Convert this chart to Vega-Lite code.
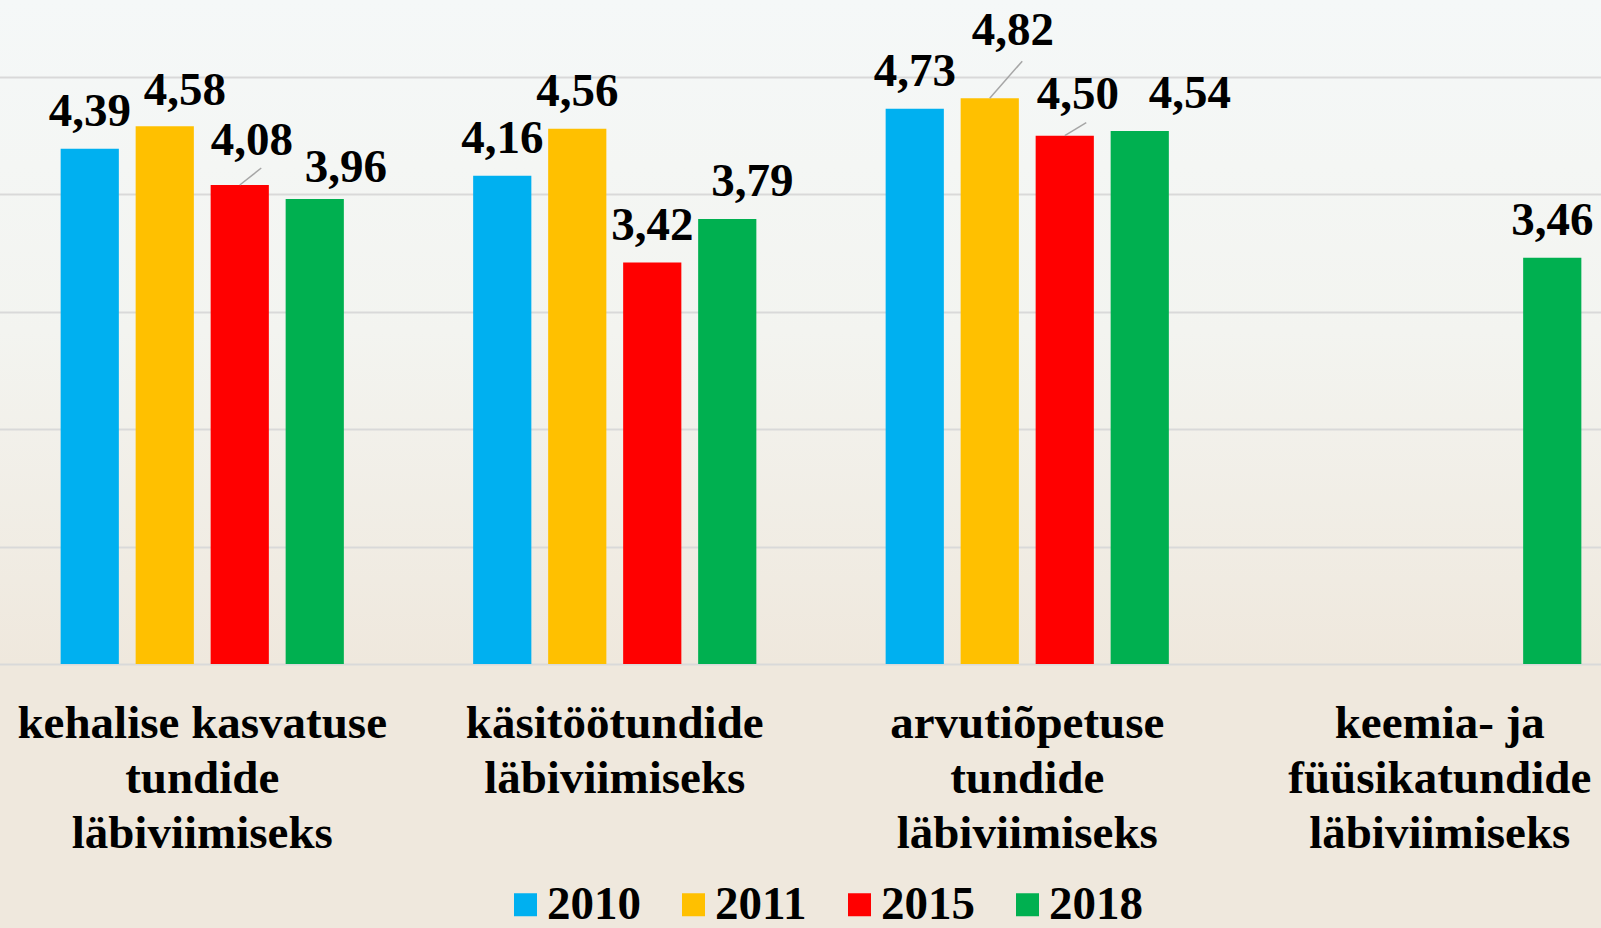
{
  "$schema": "https://vega.github.io/schema/vega-lite/v6.json",
  "width": 1601,
  "height": 664,
  "autosize": {"type": "none"},
  "padding": {"left": 0, "top": 0, "right": 0, "bottom": 264},
  "background": "#efe8dd",
  "config": {
    "view": {"stroke": null, "fill": {"gradient": "linear", "x1": 0, "y1": 0, "x2": 0, "y2": 1, "stops": [{"offset": 0, "color": "#f5f8f8"}, {"offset": 0.5, "color": "#f3f4f0"}, {"offset": 1, "color": "#efe8dd"}]}},
    "locale": {"number": {"decimal": ",", "thousands": " ", "grouping": [3], "currency": ["", " €"]}},
    "font": "Liberation Serif"
  },
  "data": {
    "values": [
      {"category": "kehalise kasvatuse\ntundide\nläbiviimiseks", "year": "2010", "value": 4.39},
      {"category": "kehalise kasvatuse\ntundide\nläbiviimiseks", "year": "2011", "value": 4.58},
      {"category": "kehalise kasvatuse\ntundide\nläbiviimiseks", "year": "2015", "value": 4.08},
      {"category": "kehalise kasvatuse\ntundide\nläbiviimiseks", "year": "2018", "value": 3.96},
      {"category": "käsitöötundide\nläbiviimiseks", "year": "2010", "value": 4.16},
      {"category": "käsitöötundide\nläbiviimiseks", "year": "2011", "value": 4.56},
      {"category": "käsitöötundide\nläbiviimiseks", "year": "2015", "value": 3.42},
      {"category": "käsitöötundide\nläbiviimiseks", "year": "2018", "value": 3.79},
      {"category": "arvutiõpetuse\ntundide\nläbiviimiseks", "year": "2010", "value": 4.73},
      {"category": "arvutiõpetuse\ntundide\nläbiviimiseks", "year": "2011", "value": 4.82},
      {"category": "arvutiõpetuse\ntundide\nläbiviimiseks", "year": "2015", "value": 4.50},
      {"category": "arvutiõpetuse\ntundide\nläbiviimiseks", "year": "2018", "value": 4.54},
      {"category": "keemia- ja\nfüüsikatundide\nläbiviimiseks", "year": "2018", "value": 3.46}
    ]
  },
  "encoding": {
    "x": {
      "field": "category", "type": "nominal", "sort": null,
      "scale": {"range": [-4, 1646], "paddingInner": 0, "paddingOuter": 0},
      "axis": {
        "title": null, "labelAngle": 0, "labelFont": "Liberation Serif", "labelFontSize": 47,
        "labelFontWeight": "bold", "labelColor": "black", "labelLineHeight": 55, "labelPadding": 36,
        "ticks": false, "domain": false, "labelLimit": 600, "labelOverlap": false, "labelBound": false,
        "labelFlush": false, "labelExpr": "split(datum.label, '\\n')"
      }
    },
    "xOffset": {
      "field": "year", "type": "nominal",
      "scale": {"domain": ["2010", "2011", "2015", "2018"], "paddingInner": 0.224, "paddingOuter": 0.862}
    },
    "y": {
      "field": "value", "type": "quantitative",
      "scale": {"domain": [0, 5.656], "nice": false, "zero": true},
      "axis": {"title": null, "values": [0, 1, 2, 3, 4, 5], "labels": false, "ticks": false, "domain": false, "grid": true, "gridColor": "#d9d9d9", "gridWidth": 2}
    }
  },
  "layer": [
    {
      "mark": {"type": "bar"},
      "encoding": {
        "color": {
          "field": "year", "type": "nominal",
          "scale": {"domain": ["2010", "2011", "2015", "2018"], "range": ["#00B0F0", "#FFC000", "#FF0000", "#00B050"]},
          "legend": {
            "title": null, "orient": "none", "legendX": 502, "legendY": 881, "direction": "horizontal",
            "columns": 4, "symbolType": "square", "symbolSize": 529, "symbolStrokeWidth": 0,
            "labelFont": "Liberation Serif", "labelFontSize": 47, "labelFontWeight": "bold", "labelColor": "black",
            "labelOffset": -2, "columnPadding": 29, "padding": 0, "labelLimit": 300
          }
        }
      }
    },
    {
      "transform": [{"filter": "datum.value == 4.08 || datum.value == 4.82 || datum.value == 4.5"}],
      "mark": {
        "type": "rule", "color": "#a6a6a6", "strokeWidth": 1.5,
        "x2Offset": {"expr": "datum.value == 4.82 ? -5 : 59"},
        "y2Offset": {"expr": "datum.value == 4.82 ? -37 : datum.value == 4.08 ? -17 : -13"}
      },
      "encoding": {
        "x2": {"field": "category"},
        "y2": {"field": "value"}
      }
    },
    {
      "mark": {
        "type": "text", "font": "Liberation Serif", "fontSize": 47, "fontWeight": "bold", "color": "black", "baseline": "alphabetic",
        "dx": {"expr": "datum.value == 4.58 ? 20 : datum.value == 4.08 ? 12 : datum.value == 3.96 ? 31 : datum.value == 3.79 ? 25 : datum.value == 4.82 ? 23 : datum.value == 4.5 ? 13 : datum.value == 4.54 ? 50 : 0"},
        "dy": {"expr": "datum.value == 4.08 ? -30 : datum.value == 3.96 ? -17 : datum.value == 4.82 ? -53 : datum.value == 4.5 ? -27 : datum.value == 4.58 ? -21 : -23"}
      },
      "encoding": {
        "text": {"field": "value", "type": "quantitative", "format": ".2f"}
      }
    }
  ]
}
